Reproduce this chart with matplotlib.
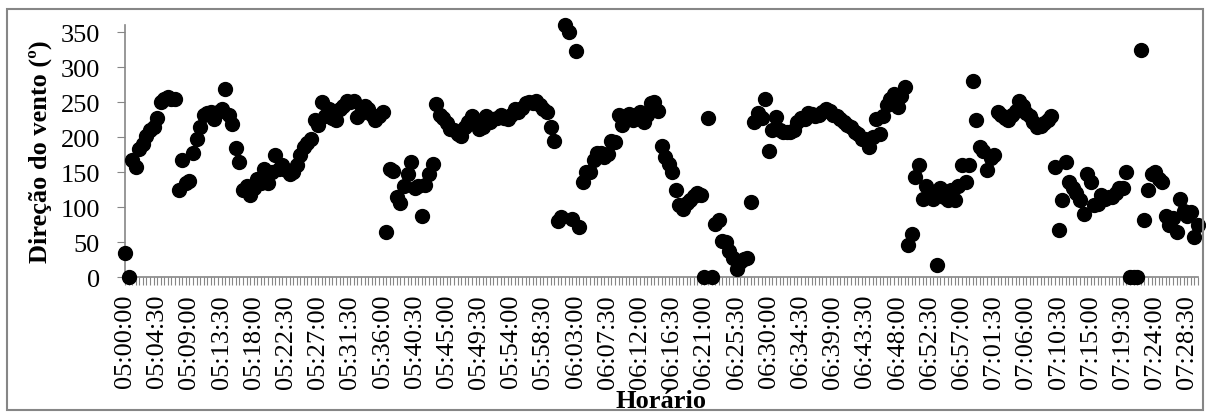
import numpy as np
import pandas as pd
import matplotlib
matplotlib.use("Agg")
from matplotlib import pyplot as plt
from matplotlib.patches import Rectangle

# categorias: um registro a cada 30 s, 05:00:00 ate 07:30:00
horario = pd.date_range("2000-01-01 05:00:00", "2000-01-01 07:30:00", freq="30s").strftime("%H:%M:%S").tolist()

# direcao do vento (graus)
direcao = [
    34, 0, 167, 157, 183, 190, 202, 210, 215, 228,
    250, 255, 257, 255, 254, 124, 167, 135, 138, 178,
    198, 215, 231, 234, 236, 226, 236, 240, 268, 232,
    219, 185, 165, 124, 130, 117, 128, 140, 135, 155,
    134, 150, 174, 155, 160, 153, 148, 150, 160, 174,
    186, 192, 198, 224, 217, 250, 230, 240, 228, 224,
    240, 245, 252, 250, 252, 229, 235, 245, 240, 232,
    224, 230, 236, 65, 155, 152, 115, 106, 130, 147,
    165, 128, 130, 88, 131, 148, 162, 247, 232, 228,
    220, 212, 210, 205, 202, 215, 222, 230, 225, 212,
    214, 230, 222, 226, 228, 231, 228, 226, 232, 240,
    236, 242, 248, 250, 248, 252, 246, 240, 236, 214,
    195, 80, 86, 360, 350, 83, 323, 72, 136, 150,
    150, 168, 178, 177, 172, 176, 195, 193, 231, 217,
    228, 233, 224, 231, 236, 221, 232, 248, 250, 238,
    188, 172, 162, 150, 125, 103, 98, 106, 110, 116,
    120, 118, 0, 228, 0, 76, 82, 52, 50, 38,
    28, 12, 22, 26, 28, 107, 222, 234, 228, 255,
    180, 210, 229, 210, 208, 207, 208, 210, 222, 228,
    226, 235, 233, 230, 232, 236, 240, 238, 232, 230,
    226, 222, 218, 214, 208, 204, 198, 198, 186, 200,
    226, 204, 230, 246, 255, 262, 243, 258, 272, 46,
    62, 143, 160, 112, 130, 118, 112, 18, 127, 115,
    110, 124, 110, 130, 160, 136, 160, 280, 225, 186,
    180, 153, 170, 175, 236, 232, 228, 225, 232, 238,
    252, 245, 235, 230, 222, 214, 216, 220, 225, 230,
    157, 67, 110, 164, 136, 127, 120, 110, 91, 148,
    136, 103, 105, 118, 112, 115, 115, 120, 127, 128,
    150, 0, 0, 0, 325, 82, 124, 148, 150, 140,
    136, 88, 74, 85, 65, 112, 95, 88, 93, 58,
    74,
]

y_ticks = [0, 50, 100, 150, 200, 250, 300, 350]

plt.rcParams['font.family'] = ['Liberation Serif', 'DejaVu Serif']
cinza = '#868686'

fig = plt.figure(figsize=(12.06, 4.14), dpi=100)
ax = fig.add_axes([125/1206, 1-278.3/414, 1073/1206, 252.3/414])

x = np.arange(len(direcao))
ax.plot(x, direcao, 'o', color='black', markersize=10, clip_on=False, zorder=5)

ax.set_xlim(0, len(direcao)-1)
ax.set_ylim(0, 360)
ax.set_yticks(y_ticks)
ax.set_yticklabels([str(v) for v in y_ticks], fontsize=19)

# marcas em todas as categorias, rotulo a cada 9
ax.set_xticks(x[::9])
ax.set_xticklabels(horario[::9], rotation=90, fontsize=19)
ax.set_xticks(x, minor=True)
ax.tick_params(axis='x', which='both', direction='out', length=6, width=0.8, color=cinza, pad=6)
ax.tick_params(axis='y', direction='out', length=6, width=0.8, color=cinza, pad=12)

for s in ['top', 'right']:
    ax.spines[s].set_visible(False)
for s in ['left', 'bottom']:
    ax.spines[s].set_color(cinza)
    ax.spines[s].set_linewidth(1.2)

ax.set_ylabel('Direção do vento (º)', fontsize=19, fontweight='bold', labelpad=6)
fig.text(661/1206, 1-402/414, 'Horário', fontsize=19, fontweight='bold', ha='center', va='center')

# borda da area do grafico
fig.patches.append(Rectangle((7/1206, 3/414), 1196/1206, 401/414, transform=fig.transFigure,
                             fill=False, edgecolor=cinza, linewidth=1.5))

fig.savefig('out.png', dpi=100)
